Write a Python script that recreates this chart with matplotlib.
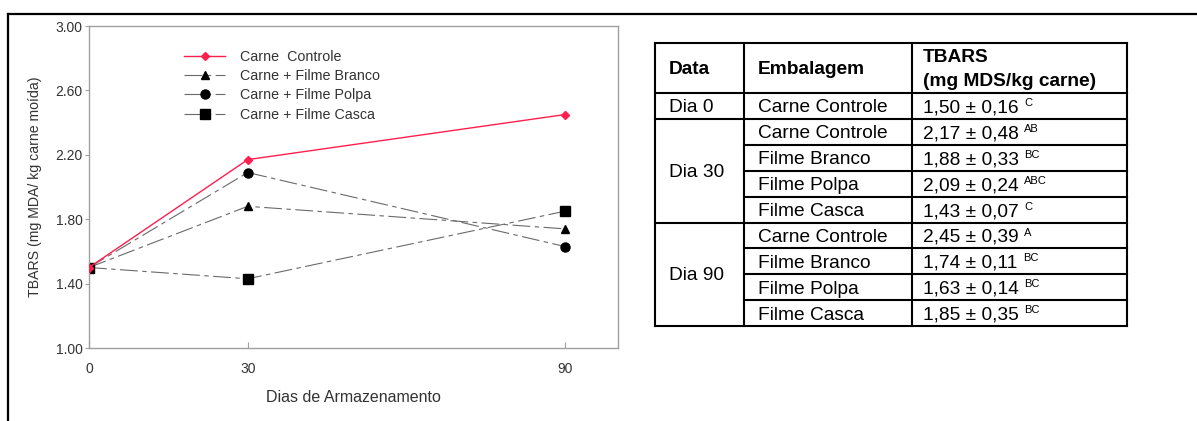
"""
TBARS da carne moída durante o armazenamento: gráfico + tabela
"""
import matplotlib
matplotlib.use('Agg')
import matplotlib.pyplot as plt
from matplotlib.lines import Line2D

plt.rcParams['font.family'] = ['Liberation Sans', 'DejaVu Sans']

# dados do gráfico
dias = [0, 30, 90]
serie_nomes = ['Carne  Controle', 'Carne + Filme Branco',
               'Carne + Filme Polpa', 'Carne + Filme Casca']
controle = [1.50, 2.17, 2.45]
branco = [1.50, 1.88, 1.74]
polpa = [1.50, 2.09, 1.63]
casca = [1.50, 1.43, 1.85]
y_ticks = [1.00, 1.40, 1.80, 2.20, 2.60, 3.00]

# dados da tabela
cab_data = 'Data'
cab_emb = 'Embalagem'
cab_tbars = ['TBARS', '(mg MDS/kg carne)']
grupos = ['Dia 0', 'Dia 30', 'Dia 90']
grupo_n = [1, 4, 4]
embalagens = ['Carne Controle',
              'Carne Controle', 'Filme Branco', 'Filme Polpa', 'Filme Casca',
              'Carne Controle', 'Filme Branco', 'Filme Polpa', 'Filme Casca']
medias = ['1,50', '2,17', '1,88', '2,09', '1,43', '2,45', '1,74', '1,63', '1,85']
desvios = ['0,16', '0,48', '0,33', '0,24', '0,07', '0,39', '0,11', '0,14', '0,35']
letras = ['C', 'AB', 'BC', 'ABC', 'C', 'A', 'BC', 'BC', 'BC']

W, H = 1197, 421
CINZA = '#a0a0a0'
TXT = '#333333'


def plot_chart(fig):
    """Gráfico de linhas TBARS x dias"""
    ax = fig.add_axes([89 / W, 1 - 348 / H, (618 - 89) / W, (348 - 26) / H])
    estilo = (0, (16, 4, 4, 4))
    cor_linha = '#6a6a6a'
    ax.plot(dias, controle, color='#ff1f4f', lw=1.0, marker='D', ms=4.5,
            label=serie_nomes[0], zorder=5)
    ax.plot(dias, branco, color=cor_linha, lw=0.8, ls=estilo, marker='^', ms=6,
            mfc='black', mec='black', label=serie_nomes[1])
    ax.plot(dias, polpa, color=cor_linha, lw=0.8, ls=estilo, marker='o', ms=6.5,
            mfc='black', mec='black', label=serie_nomes[2])
    ax.plot(dias, casca, color=cor_linha, lw=0.8, ls=estilo, marker='s', ms=6.5,
            mfc='black', mec='black', label=serie_nomes[3])

    ax.set_xlim(0, 100)
    ax.set_ylim(1.0, 3.0)
    ax.set_xticks(dias)
    ax.set_yticks(y_ticks)
    ax.set_yticklabels([f'{v:.2f}' for v in y_ticks])
    ax.tick_params(axis='x', direction='in', length=4, color=CINZA,
                   labelsize=10, labelcolor=TXT, pad=10)
    ax.tick_params(axis='y', direction='out', length=3, color=CINZA,
                   labelsize=10, labelcolor=TXT, pad=1.5)
    for sp in ax.spines.values():
        sp.set_color(CINZA)
        sp.set_linewidth(1.0)

    ax.set_xlabel('Dias de Armazenamento', fontsize=11.5, color=TXT, labelpad=10)
    ax.set_ylabel('TBARS (mg MDA/ kg carne moída)', fontsize=10.2, color=TXT,
                  labelpad=10)

    ax.legend(loc='upper left', bbox_to_anchor=(0.155, 0.965), frameon=False,
              fontsize=10.3, labelspacing=0.36, handlelength=2.9,
              handletextpad=1.0, labelcolor=TXT)
    return ax


def draw_table(fig):
    """Tabela com médias ± desvio e letras de significância"""
    tb = fig.add_axes([0, 0, 1, 1], zorder=-1)
    tb.set_xlim(0, W)
    tb.set_ylim(H, 0)
    tb.axis('off')

    # moldura externa da figura
    tb.add_line(Line2D([8, W], [14, 14], color='black', lw=1.6))
    tb.add_line(Line2D([8, 8], [14, H], color='black', lw=1.6))

    x0, x1, x2, x3 = 655, 744, 912, 1127
    y_top, y_head = 43, 93
    row_h = 25.9
    n = len(embalagens)
    y_rows = [y_head + i * row_h for i in range(n + 1)]

    lw = 1.5
    # contorno e colunas
    for x in (x0, x1, x2, x3):
        tb.add_line(Line2D([x, x], [y_top, y_rows[-1]], color='black', lw=lw))
    tb.add_line(Line2D([x0, x3], [y_top, y_top], color='black', lw=lw))
    tb.add_line(Line2D([x0, x3], [y_head, y_head], color='black', lw=lw))
    tb.add_line(Line2D([x0, x3], [y_rows[-1], y_rows[-1]], color='black', lw=lw))

    # linhas internas: completas entre grupos, parciais dentro do grupo
    limites = []
    acc = 0
    for g in grupo_n:
        acc += g
        limites.append(acc)
    for i in range(1, n):
        xs = x0 if i in limites else x1
        tb.add_line(Line2D([xs, x3], [y_rows[i], y_rows[i]], color='black', lw=lw))

    fs = 13.8
    # cabeçalho
    tb.text(x0 + 14, 70, cab_data, fontsize=fs, fontweight='bold', va='center')
    tb.text(x1 + 14, 70, cab_emb, fontsize=fs, fontweight='bold', va='center')
    tb.text(x2 + 11, 57, cab_tbars[0], fontsize=fs, fontweight='bold', va='center')
    tb.text(x2 + 11, 82, cab_tbars[1], fontsize=fs, fontweight='bold', va='center')

    # grupos (Dia)
    ini = 0
    for nome, g in zip(grupos, grupo_n):
        yc = (y_rows[ini] + y_rows[ini + g]) / 2 + 1.5
        tb.text(x0 + 14, yc, nome, fontsize=fs, va='center')
        ini += g

    # linhas de dados
    for i in range(n):
        yc = (y_rows[i] + y_rows[i + 1]) / 2 + 2
        tb.text(x1 + 14, yc, embalagens[i], fontsize=fs, va='center')
        t = tb.text(x2 + 11, yc, f'{medias[i]} ± {desvios[i]} ', fontsize=fs,
                    va='center')
        tb.annotate(letras[i], xy=(1, 1), xycoords=t, xytext=(0, 1),
                    textcoords='offset points', fontsize=8, va='top', ha='left')
    return tb


def main():
    fig = plt.figure(figsize=(W / 100, H / 100), dpi=100)
    draw_table(fig)
    plot_chart(fig)
    fig.savefig('out.png', dpi=100, facecolor='white')
    plt.close(fig)


if __name__ == "__main__":
    main()
